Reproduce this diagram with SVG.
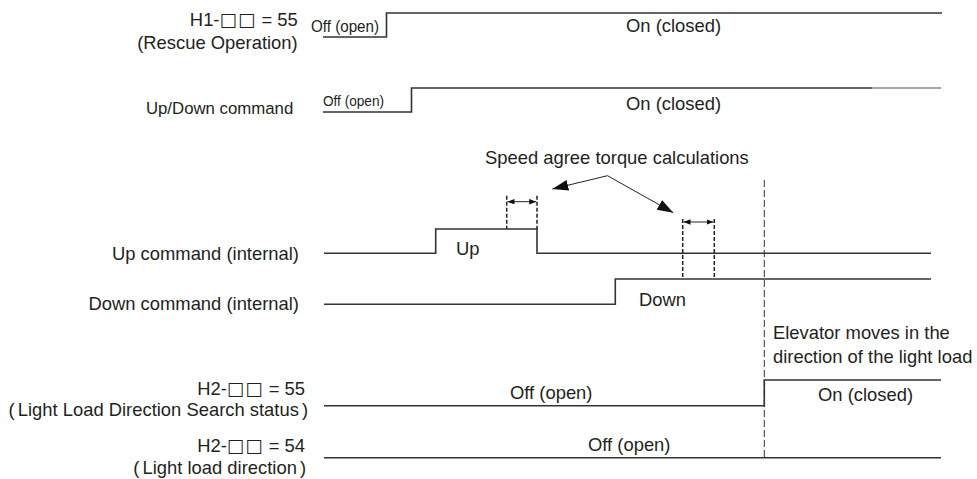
<svg xmlns="http://www.w3.org/2000/svg" width="977" height="479" viewBox="0 0 977 479">
<style>
.t{font-family:"Liberation Sans",Arial,sans-serif;font-size:18.4px;fill:#231f20}
.sq{font-family:"DejaVu Sans",sans-serif;letter-spacing:1px}
.sig{fill:none;stroke:#333;stroke-width:1.6}
.dsh{fill:none;stroke:#222;stroke-width:1.5;stroke-dasharray:4 2}
.ldsh{fill:none;stroke:#333;stroke-width:1;stroke-dasharray:7 3}
.arr{fill:none;stroke:#222;stroke-width:1}
</style>
<defs>
<marker id="big" markerUnits="userSpaceOnUse" markerWidth="17" markerHeight="12" refX="16" refY="5.5" orient="auto" viewBox="0 0 17 12">
<path d="M0,0 L16,5.5 L0,11 z" fill="#111"/>
</marker>
<marker id="sm" markerUnits="userSpaceOnUse" markerWidth="8" markerHeight="6" refX="7" refY="2.75" orient="auto-start-reverse" viewBox="0 0 8 6">
<path d="M0,0 L7,2.75 L0,5.5 z" fill="#111"/>
</marker>
</defs>

<g id="h1-rescue">
<text class="t" x="297.7" y="26" text-anchor="end">H1-<tspan class="sq">□□</tspan> = 55</text>
<text class="t" x="297.7" y="49" text-anchor="end">(Rescue Operation)</text>
<text class="t" x="311" y="31.5" style="font-size:16.5px" textLength="68" lengthAdjust="spacingAndGlyphs">Off (open)</text>
<text class="t" x="626" y="32">On (closed)</text>
<path class="sig" d="M323,37 H386.5 V13 H942"/>
</g>

<g id="updown-command">
<text class="t" x="293.3" y="114" text-anchor="end" style="font-size:16.8px">Up/Down command</text>
<text class="t" x="323" y="106" style="font-size:15.5px" textLength="61" lengthAdjust="spacingAndGlyphs">Off (open)</text>
<text class="t" x="626" y="110">On (closed)</text>
<path class="sig" d="M323,112 H411.5 V88 H872"/>
<path fill="none" stroke="#888" stroke-width="1.6" d="M872,88 H941"/>
</g>

<g id="up-internal">
<text class="t" x="299" y="259.5" text-anchor="end">Up command (internal)</text>
<text class="t" x="456" y="254.5">Up</text>
<path class="sig" d="M324,253.3 H435.7 V229 H537 V253.3 H931"/>
</g>

<g id="down-internal">
<text class="t" x="299" y="309.5" text-anchor="end">Down command (internal)</text>
<text class="t" x="639" y="306">Down</text>
<path class="sig" d="M324,304.3 H615.3 V279 H931"/>
</g>

<g id="h2-55">
<text class="t" x="305" y="394.5" text-anchor="end">H2-<tspan class="sq">□□</tspan> = 55</text>
<text class="t" x="308" y="415.5" text-anchor="end">(<tspan dx="3">Light Load Direction Search status</tspan><tspan dx="3">)</tspan></text>
<text class="t" x="510" y="399">Off (open)</text>
<text class="t" x="818" y="401">On (closed)</text>
<path class="sig" d="M324,405.7 H764.3 V380 H941"/>
</g>

<g id="h2-54">
<text class="t" x="305" y="452" text-anchor="end">H2-<tspan class="sq">□□</tspan> = 54</text>
<text class="t" x="306" y="474" text-anchor="end">(<tspan dx="3">Light load direction</tspan><tspan dx="3">)</tspan></text>
<text class="t" x="588" y="451">Off (open)</text>
<path class="sig" d="M324,457.7 H941"/>
</g>

<g id="elevator-note">
<text class="t" x="773" y="339">Elevator moves in the</text>
<text class="t" x="773" y="363">direction of the light load</text>
</g>

<g id="speed-agree">
<text class="t" x="485" y="164">Speed agree torque calculations</text>
</g>

<g id="connectors">
<path class="ldsh" d="M764.3,180 V458"/>
<path class="dsh" d="M506.7,195.7 V229"/>
<path class="dsh" d="M537,195.7 V229"/>
<path class="dsh" d="M682.7,219 V279"/>
<path class="dsh" d="M714.3,219 V279"/>
<path class="arr" d="M507.5,201.7 H536.2" marker-start="url(#sm)" marker-end="url(#sm)"/>
<path class="arr" d="M683.5,222 H713.5" marker-start="url(#sm)" marker-end="url(#sm)"/>
<path class="arr" d="M607.5,175.7 L552.3,189" marker-end="url(#big)"/>
<path class="arr" d="M607.5,175.7 L673.3,212.7" marker-end="url(#big)"/>
</g>
</svg>
